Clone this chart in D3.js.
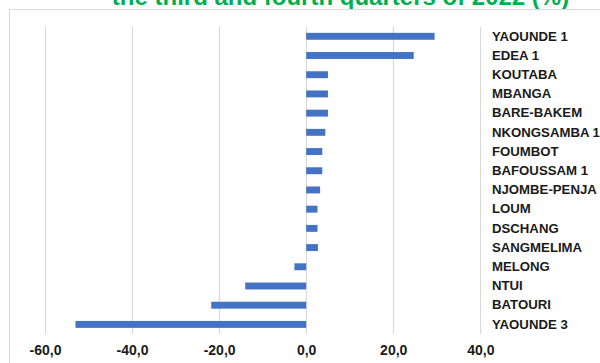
<!DOCTYPE html>
<html>
<head>
<meta charset="utf-8">
<script src="https://cdn.jsdelivr.net/npm/d3@7"></script>
<style>
  html, body { margin: 0; padding: 0; background: #fff; }
  svg { display: block; }
</style>
</head>
<body>
<svg id="chart" width="600" height="363"></svg>
<script>
// Change between Q3 and Q4 2022, by centre (%)
const centres = [
  "YAOUNDE 1", "EDEA 1", "KOUTABA", "MBANGA", "BARE-BAKEM", "NKONGSAMBA 1",
  "FOUMBOT", "BAFOUSSAM 1", "NJOMBE-PENJA", "LOUM", "DSCHANG", "SANGMELIMA",
  "MELONG", "NTUI", "BATOURI", "YAOUNDE 3"
];
const changes = [
  29.5, 24.7, 5.0, 5.0, 5.0, 4.4,
  3.7, 3.7, 3.2, 2.6, 2.6, 2.7,
  -2.7, -14.0, -21.8, -53.0
];
const tickValues = [-60, -40, -20, 0, 20, 40];
const titleText = "the third and fourth quarters of 2022 (%)";

const svg = d3.select("#chart");
const gridColor = "#d9d9d9";
const barColor = "#4472C4";

const x = d3.scaleLinear().domain([-60, 40]).range([45, 480.3]);
const y = d3.scaleBand().domain(centres).range([26.7, 334]).paddingInner(0.64).paddingOuter(0.32);

// Title (its upper part runs above the page edge)
svg.append("text")
  .attr("x", 340.5)
  .attr("y", 4.5)
  .attr("text-anchor", "middle")
  .attr("font-family", "Liberation Sans, Arial, sans-serif")
  .attr("font-weight", "bold")
  .attr("font-size", 24)
  .attr("fill", "#00B050")
  .text(titleText);

// Chart frame (top and left edges)
svg.append("line").attr("x1", 9).attr("x2", 600).attr("y1", 9.5).attr("y2", 9.5)
  .attr("stroke", gridColor).attr("stroke-width", 1);
svg.append("line").attr("x1", 9.5).attr("x2", 9.5).attr("y1", 9).attr("y2", 363)
  .attr("stroke", gridColor).attr("stroke-width", 1);

// Vertical gridlines
svg.append("g")
  .selectAll("line")
  .data(tickValues)
  .join("line")
  .attr("x1", d => Math.round(x(d)) + 0.5)
  .attr("x2", d => Math.round(x(d)) + 0.5)
  .attr("y1", 26.7)
  .attr("y2", 334)
  .attr("stroke", gridColor)
  .attr("stroke-width", 1.2);

// Bars
svg.append("g")
  .selectAll("rect")
  .data(centres.map((c, i) => ({ c, v: changes[i] })))
  .join("rect")
  .attr("x", d => x(Math.min(0, d.v)))
  .attr("width", d => Math.abs(x(d.v) - x(0)))
  .attr("y", d => y(d.c))
  .attr("height", y.bandwidth())
  .attr("fill", barColor);

// Category labels on the right
const yAxis = d3.axisRight(y).tickSize(0).tickPadding(0);
const gy = svg.append("g").attr("transform", "translate(492,0)").call(yAxis);
gy.select(".domain").remove();
gy.selectAll("text")
  .attr("font-family", "Liberation Sans, Arial, sans-serif")
  .attr("font-weight", "bold")
  .attr("font-size", 13.2)
  .attr("fill", "#1a1a1a");

// Value axis at the bottom
const fmt = d => d3.format(".1f")(d).replace(".", ",").replace("−", "-");
const xAxis = d3.axisBottom(x).tickValues(tickValues).tickSize(0).tickPadding(0).tickFormat(fmt);
const gx = svg.append("g").attr("transform", "translate(0,345)").call(xAxis);
gx.select(".domain").remove();
gx.selectAll("text")
  .attr("font-family", "Liberation Sans, Arial, sans-serif")
  .attr("font-weight", "bold")
  .attr("font-size", 14)
  .attr("fill", "#1a1a1a");
</script>
</body>
</html>
